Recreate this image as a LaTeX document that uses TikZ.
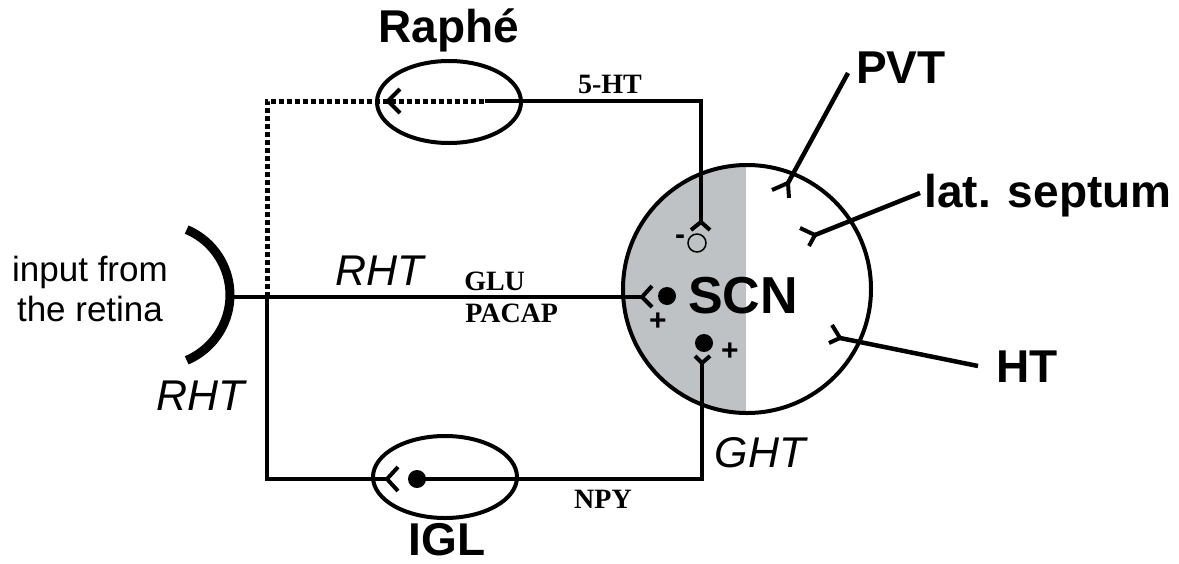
\documentclass[tikz,border=0pt]{standalone}
\usepackage{fontspec}
\setmainfont{Liberation Sans}
\newfontfamily\timesf{Liberation Serif}
\usetikzlibrary{shapes.geometric}
\definecolor{scngray}{RGB}{191,194,196}
\begin{document}
\begin{tikzpicture}[x=1pt,y=-1pt,line width=4.5pt,
  lbl/.style={font=\fontsize{46}{46}\selectfont\bfseries, inner sep=0, anchor=base},
  itl/.style={font=\fontsize{43}{43}\selectfont\itshape, inner sep=0, anchor=base},
  nt/.style={font=\fontsize{28}{28}\selectfont\timesf\bfseries, inner sep=0, anchor=base},
  sign/.style={font=\fontsize{30}{30}\selectfont\bfseries, inner sep=0},
  nucleus/.style={draw, ellipse, minimum width=144pt, minimum height=82pt, inner sep=0, line width=4pt},
  dot/.style={circle, fill=black, minimum size=18pt, inner sep=0},
  opendot/.style={circle, draw=black, line width=1.5pt, minimum size=18pt, inner sep=0},
  syn/.style={line width=4pt},
  dotline/.style={line width=5pt, dash pattern=on 5pt off 3pt}]
\useasboundingbox (0,0) rectangle (1179,563);
% SCN
\begin{scope}
  \clip (747,289) circle (124pt);
  \fill[scngray] (600,150) rectangle (746,430);
\end{scope}
\node[circle, draw, minimum size=248pt, inner sep=0, line width=4pt] (scn) at (747,289) {};
\node[lbl, font=\fontsize{52}{52}\selectfont\bfseries] (scnl) at (743,313) {SCN};
% nuclei
\node[nucleus] (raphe) at (449,102) {};
\node[nucleus] (igl) at (445,477) {};
\node[lbl] (raphel) at (449,42) {Raphé};
\node[lbl] (igll) at (447,555) {IGL};
\node[lbl] (pvt) at (901,83) {PVT};
\node[lbl] (septum) at (1048,207) {lat. septum};
\node[lbl] (ht) at (1027,382) {HT};
% retina
\draw[line width=9pt] (186.7,229.6) arc[start angle=67,end angle=-67,radius=71pt];
\node[align=center, font=\fontsize{35}{40}\selectfont, inner sep=0] (input) at (90,289) {input from\\the retina};
% text labels
\node[itl] (rht1) at (380,285) {RHT};
\node[itl] (rht2) at (201,410) {RHT};
\node[itl] (ght) at (760,467) {GHT};
\node[nt, anchor=base west] (glu) at (462,290) {GLU};
\node[nt, anchor=base west] (pacap) at (463,322) {PACAP};
\node[nt] (sht) at (610,93) {5-HT};
\node[nt] (npy) at (603,508) {NPY};
% coordinates
\coordinate (retina) at (230,297);
\coordinate (jn) at (267,297);
\coordinate (rhtS) at (642,297);
\coordinate (iglS) at (387,479);
\coordinate (rapS) at (388,101);
\coordinate (rapOut) at (485,101);
\coordinate (shtS) at (701,222);
\coordinate (ghtS) at (702,363);
\coordinate (pvtS) at (788,183);
\coordinate (pvtE) at (848,73);
\coordinate (sepS) at (815,235);
\coordinate (sepE) at (920,193);
\coordinate (htS) at (840,338);
\coordinate (htE) at (978,366);
% cells
\node[dot] (rhtcell) at (667,296) {};
\node[dot] (ghtcell) at (704,343) {};
\node[dot] (iglcell) at (417,479) {};
\node[opendot] (shtcell) at (697,243) {};
\node[sign] (minus) at (680,240) {-};
\node[sign] (plus1) at (658,322) {+};
\node[sign] (plus2) at (730,352) {+};
% pathways
\draw (retina) -- (rhtS);
\draw (jn) |- (iglS);
\draw[dotline] (jn) |- (rapOut);
\draw (rapOut) -| (shtS);
\draw (iglcell.center) -| (ghtS);
\draw (pvtE) -- (pvtS);
\draw (sepE) -- (sepS);
\draw (htE) -- (htS);
% synapses
\draw[syn] (400,89) -- (rapS) -- (400,113);
\draw[syn] (398,467) -- (iglS) -- (398,491);
\draw[syn] (652,286) -- (rhtS) -- (652,307);
\draw[syn] (691,230) -- (shtS) -- (710,230);
\draw[syn] (695,356) -- (ghtS) -- (710,356);
\draw[syn] (772,190) -- (pvtS) -- (789,198);
\draw[syn] (800,228) -- (sepS) -- (809,246);
\draw[syn] (832,325) -- (htS) -- (829,343);
\end{tikzpicture}
\end{document}
